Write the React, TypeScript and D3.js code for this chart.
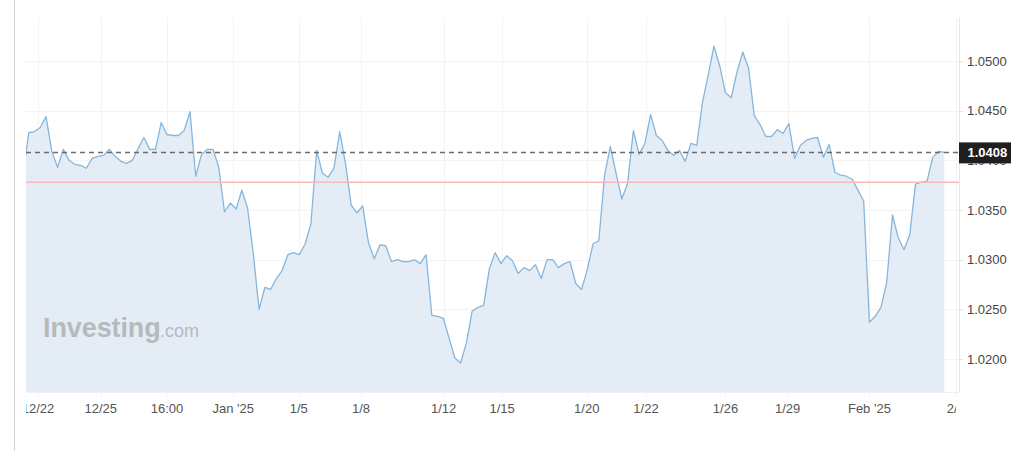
import React from 'react';
import * as d3 from 'd3';

// EUR/USD-ish closes, one per bar (index based, weekends collapsed)
const closes: number[] = [
  1.0385, 1.0428, 1.0429, 1.0433, 1.0444, 1.0409, 1.0393, 1.0411, 1.0400, 1.0396,
  1.0395, 1.0392, 1.0402, 1.0404, 1.0405, 1.0411, 1.0404, 1.0399, 1.0397, 1.0400,
  1.0412, 1.0423, 1.0411, 1.0411, 1.0438, 1.0426, 1.0425, 1.0425, 1.0430, 1.0449,
  1.0384, 1.0406, 1.0411, 1.0411, 1.0393, 1.0348, 1.0357, 1.0351, 1.0370, 1.0352,
  1.0306, 1.0250, 1.0272, 1.0270, 1.0281, 1.0289, 1.0305, 1.0307, 1.0305, 1.0316,
  1.0336, 1.0410, 1.0387, 1.0383, 1.0392, 1.0429, 1.0397, 1.0355, 1.0347, 1.0354,
  1.0317, 1.0301, 1.0315, 1.0314, 1.0298, 1.0300, 1.0298, 1.0298, 1.0300, 1.0296,
  1.0305, 1.0244, 1.0243, 1.0241, 1.0221, 1.0201, 1.0196, 1.0216, 1.0248, 1.0252,
  1.0254, 1.0291, 1.0307, 1.0296, 1.0304, 1.0299, 1.0286, 1.0292, 1.0289, 1.0295,
  1.0281, 1.0300, 1.0300, 1.0292, 1.0296, 1.0298, 1.0276, 1.0270, 1.0290, 1.0316,
  1.0319, 1.0385, 1.0414, 1.0387, 1.0361, 1.0377, 1.0430, 1.0406, 1.0417, 1.0446,
  1.0425, 1.0420, 1.0410, 1.0405, 1.0410, 1.0399, 1.0417, 1.0415, 1.0458, 1.0486,
  1.0515, 1.0495, 1.0468, 1.0463, 1.0489, 1.0509, 1.0493, 1.0445, 1.0436, 1.0424,
  1.0424, 1.0431, 1.0427, 1.0437, 1.0402, 1.0415, 1.0420, 1.0422, 1.0423, 1.0403,
  1.0416, 1.0388, 1.0385, 1.0384, 1.0381, 1.0370, 1.0359, 1.0237, 1.0243, 1.0252,
  1.0277, 1.0345, 1.0322, 1.0310, 1.0325, 1.0376, 1.0378, 1.0379, 1.0403, 1.0409,
  1.0408,
];

const xTickLabels = ['12/22', '12/25', '16:00', "Jan '25", '1/5', '1/8', '1/12', '1/15', '1/20', '1/22', '1/26', '1/29', "Feb '25", '2/6'];
const xTickIndex = [2.6, 13.5, 25.0, 36.5, 47.9, 58.7, 73.05, 83.2, 97.9, 108.2, 122.0, 132.8, 147.0, 162.0];
const yTicks = [1.02, 1.025, 1.03, 1.035, 1.04, 1.045, 1.05];

const lastPrice = 1.0408;
const refLevel = 1.0378;

const W = 1028;
const H = 451;
const plot = { left: 26, right: 959, top: 18, bottom: 392 };

export default function App() {
  const x = d3.scaleLinear().domain([0, closes.length - 1]).range([23, 944.3]);
  const y = d3.scaleLinear().domain([1.02, 1.05]).range([359, 61]);

  const line = d3.line<number>().x((_, i) => x(i)).y(d => y(d));
  const area = d3.area<number>().x((_, i) => x(i)).y0(plot.bottom).y1(d => y(d));

  const font = '"Liberation Sans", Arial, sans-serif';

  return (
    <div style={{ position: 'absolute', left: 0, top: 0 }}>
      <svg width={W} height={H} style={{ display: 'block', background: '#fff' }}>
        <defs>
          <clipPath id="plotClip">
            <rect x={plot.left} y={plot.top} width={plot.right - plot.left} height={plot.bottom - plot.top} />
          </clipPath>
          <clipPath id="xLabClip">
            <rect x={plot.left} y={plot.bottom} width={956 - plot.left} height={40} />
          </clipPath>
        </defs>

        {/* page edge */}
        <line x1={14.5} x2={14.5} y1={0} y2={H} stroke="#d6d6d6" />

        {/* grid */}
        <g stroke="#f2f3f5" strokeWidth={1}>
          {yTicks.map(t => (
            <line key={t} x1={plot.left} x2={plot.right} y1={Math.round(y(t)) + 0.5} y2={Math.round(y(t)) + 0.5} />
          ))}
          {xTickIndex.map((t, i) => (
            <line key={i} x1={Math.round(x(t)) + 0.5} x2={Math.round(x(t)) + 0.5} y1={plot.top} y2={plot.bottom + 5} />
          ))}
        </g>

        {/* area + line */}
        <g clipPath="url(#plotClip)">
          <path d={area(closes) || ''} fill="#e4edf5" />
          <path d={line(closes) || ''} fill="none" stroke="#86b6dc" strokeWidth={1.3} strokeLinejoin="round" />
        </g>

        {/* watermark */}
        <g fontFamily={font} fill="#b7babd">
          <text x={43} y={337} fontSize={27} fontWeight="bold" letterSpacing={-0.1}>Investing</text>
          <text x={160} y={337} fontSize={18}>.com</text>
        </g>

        {/* reference lines */}
        <line x1={plot.left} x2={plot.right} y1={y(refLevel)} y2={y(refLevel)} stroke="#f7b9b9" strokeWidth={1.5} />
        <line x1={plot.left} x2={plot.right} y1={y(lastPrice)} y2={y(lastPrice)} stroke="#6b6b6b" strokeWidth={1.5} strokeDasharray="5,4" />

        {/* frame */}
        <line x1={plot.right + 0.5} x2={plot.right + 0.5} y1={plot.top} y2={plot.bottom} stroke="#e3e6ec" />
        <line x1={plot.left} x2={plot.right} y1={plot.bottom + 0.5} y2={plot.bottom + 0.5} stroke="#eef0f3" />

        {/* y axis */}
        <g fontFamily={font} fontSize={13} fill="#444">
          {yTicks.map(t => (
            <g key={t}>
              <line x1={plot.right} x2={plot.right + 4} y1={Math.round(y(t)) + 0.5} y2={Math.round(y(t)) + 0.5} stroke="#e0e3e8" />
              <text x={967} y={y(t) + 4.5}>{d3.format('.4f')(t)}</text>
            </g>
          ))}
        </g>

        {/* x axis */}
        <g fontFamily={font} fontSize={13} fill="#555" textAnchor="middle" clipPath="url(#xLabClip)">
          {xTickIndex.map((t, i) => (
            <text key={i} x={x(t)} y={413}>{xTickLabels[i]}</text>
          ))}
        </g>

        {/* last price tag */}
        <rect x={959} y={y(lastPrice) - 10} width={52} height={21} fill="#1f1f1f" />
        <text x={967.5} y={y(lastPrice) + 5} fontFamily={font} fontSize={13} fill="#fff" fontWeight="bold">
          {d3.format('.4f')(lastPrice)}
        </text>
      </svg>
    </div>
  );
}
